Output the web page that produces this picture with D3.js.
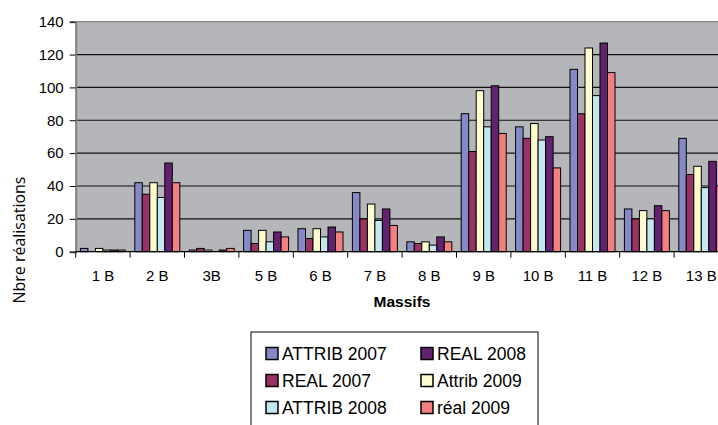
<!DOCTYPE html>
<html>
<head>
<meta charset="utf-8">
<script src="https://cdn.jsdelivr.net/npm/d3@7"></script>
<style>
  body { margin: 0; background: #fff; overflow: hidden; }
  text { font-family: "Liberation Sans", Arial, sans-serif; }
</style>
</head>
<body>
<div id="chart"></div>
<script>
// data
var massifs = ["1 B", "2 B", "3B", "5 B", "6 B", "7 B", "8 B", "9 B", "10 B", "11 B", "12 B", "13 B"];
var seriesNames = ["ATTRIB 2007", "REAL 2007", "Attrib 2009", "ATTRIB 2008", "REAL 2008", "réal 2009"];
var attrib2007 = [2, 42, 1, 13, 14, 36, 6, 84, 76, 111, 26, 69];
var real2007   = [0, 35, 2, 5, 8, 20, 5, 61, 69, 84, 20, 47];
var attrib2009 = [2, 42, 1, 13, 14, 29, 6, 98, 78, 124, 25, 52];
var attrib2008 = [1, 33, 0, 6, 9, 19, 4, 76, 68, 95, 20, 39];
var real2008   = [1, 54, 1, 12, 15, 26, 9, 101, 70, 127, 28, 55];
var real2009   = [1, 42, 2, 9, 12, 16, 6, 72, 51, 109, 25, 40];
var yTicks = [0, 20, 40, 60, 80, 100, 120, 140];
var legendOrder = ["ATTRIB 2007", "REAL 2008", "REAL 2007", "Attrib 2009", "ATTRIB 2008", "réal 2009"];

var values = [attrib2007, real2007, attrib2009, attrib2008, real2008, real2009];
var colors = {
  "ATTRIB 2007": "#8589c5",
  "REAL 2007": "#993366",
  "Attrib 2009": "#fdfbcf",
  "ATTRIB 2008": "#c4e8ef",
  "REAL 2008": "#632270",
  "réal 2009": "#f28080"
};

// dimensions
var svgWidth = 718;
var svgHeight = 425;
var plotLeft = 75.7, plotTop = 21.7, plotBottom = 251.7;
var plotRight = plotLeft + 12 * 54.4;

var svg = d3.select("#chart").append("svg")
  .attr("width", svgWidth)
  .attr("height", svgHeight);

// scales
var x0 = d3.scaleBand().domain(massifs).range([plotLeft, plotRight]).padding(0);
var x1 = d3.scaleBand().domain(seriesNames).range([4.7, x0.bandwidth() - 4.7]).padding(0);
var y = d3.scaleLinear().domain([0, 140]).range([plotBottom, plotTop]);

// plot background
svg.append("rect")
  .attr("x", plotLeft).attr("y", plotTop)
  .attr("width", plotRight - plotLeft).attr("height", plotBottom - plotTop)
  .attr("fill", "#b4b6b9");

// gridlines
svg.append("g").selectAll("line")
  .data(yTicks.filter(d => d > 0))
  .enter().append("line")
  .attr("x1", plotLeft).attr("x2", plotRight)
  .attr("y1", d => y(d)).attr("y2", d => y(d))
  .attr("stroke", d => d === 140 ? "#858585" : "#111")
  .attr("stroke-width", 1.2);

// bars
var groups = svg.append("g").selectAll("g")
  .data(massifs)
  .enter().append("g")
  .attr("transform", d => `translate(${x0(d)},0)`);

groups.selectAll("rect")
  .data((d, i) => seriesNames.map((s, j) => ({ s: s, v: values[j][i] })).filter(e => e.v > 0))
  .enter().append("rect")
  .attr("x", d => x1(d.s))
  .attr("y", d => y(d.v))
  .attr("width", x1.bandwidth())
  .attr("height", d => y(0) - y(d.v))
  .attr("fill", d => colors[d.s])
  .attr("stroke", "#000")
  .attr("stroke-width", 1);

// left axis
var leftAxis = d3.axisLeft(y).tickValues(yTicks).tickSize(6).tickPadding(6);
var gy = svg.append("g")
  .attr("transform", `translate(${plotLeft},0)`)
  .call(leftAxis);
gy.select(".domain").attr("stroke", "#808080").attr("stroke-width", 2);
gy.selectAll(".tick line").attr("stroke", "#000");
gy.selectAll("text").attr("font-size", 15).attr("fill", "#000")
  .attr("font-family", "Liberation Sans, Arial, sans-serif");

// bottom axis
svg.append("line")
  .attr("x1", plotLeft).attr("x2", plotRight)
  .attr("y1", plotBottom).attr("y2", plotBottom)
  .attr("stroke", "#000").attr("stroke-width", 1.2);

svg.append("g").selectAll("line")
  .data(d3.range(massifs.length + 1))
  .enter().append("line")
  .attr("x1", d => plotLeft + d * x0.bandwidth())
  .attr("x2", d => plotLeft + d * x0.bandwidth())
  .attr("y1", plotBottom).attr("y2", plotBottom + 6)
  .attr("stroke", "#000");

svg.append("g").selectAll("text")
  .data(massifs)
  .enter().append("text")
  .attr("x", d => x0(d) + x0.bandwidth() / 2)
  .attr("y", 281)
  .attr("text-anchor", "middle")
  .attr("font-size", 15)
  .text(d => d);

// axis titles
svg.append("text")
  .attr("x", 402).attr("y", 307)
  .attr("text-anchor", "middle")
  .attr("font-size", 15.5)
  .attr("font-weight", "bold")
  .text("Massifs");

var yTitle = svg.append("text")
  .attr("transform", "translate(25,240) rotate(-90)")
  .attr("text-anchor", "middle")
  .attr("font-size", 15)
  .style("font-family", "'Open Sans', Lato, sans-serif")
  .text("Nbre réalisations");
// size the title so it spans about the same length as in the original
var len = yTitle.node().getComputedTextLength();
yTitle.attr("font-size", 15 * 127 / len);

// legend
var legend = svg.append("g");
legend.append("rect")
  .attr("x", 251).attr("y", 332)
  .attr("width", 287).attr("height", 110)
  .attr("fill", "#fff").attr("stroke", "#000").attr("stroke-width", 1);

var items = legend.selectAll("g.item")
  .data(legendOrder)
  .enter().append("g")
  .attr("class", "item")
  .attr("transform", (d, i) => `translate(${i % 2 === 0 ? 266 : 421},${353.5 + Math.floor(i / 2) * 27})`);

items.append("rect")
  .attr("x", 0).attr("y", -6)
  .attr("width", 12).attr("height", 12)
  .attr("fill", d => colors[d])
  .attr("stroke", "#000").attr("stroke-width", 1.5);

items.append("text")
  .attr("x", 16).attr("y", 6.3)
  .attr("font-size", 17.5)
  .text(d => d);
</script>
</body>
</html>
